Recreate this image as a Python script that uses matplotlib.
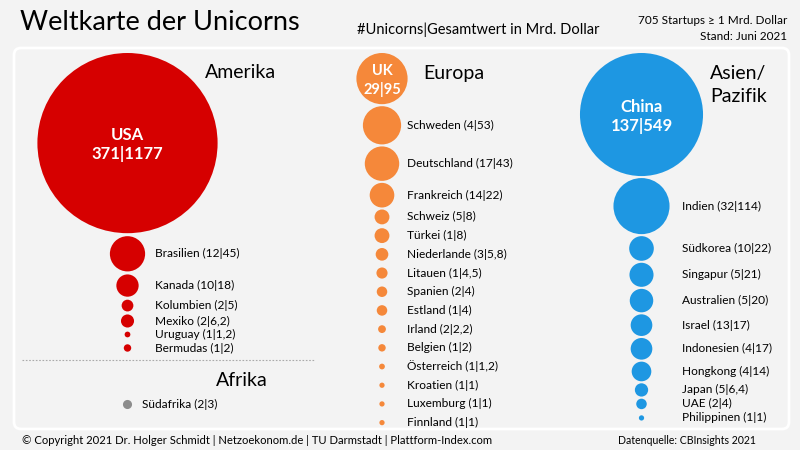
import numpy as np
import matplotlib
matplotlib.use("Agg")
import matplotlib.pyplot as plt
from matplotlib.patches import FancyBboxPatch

plt.rcParams['font.family'] = ['Lato', 'DejaVu Sans']

# data: (unicorns, total value in bn USD)
amerika_names = ["USA", "Brasilien", "Kanada", "Kolumbien", "Mexiko", "Uruguay", "Bermudas"]
amerika_count = ["371", "12", "10", "2", "2", "1", "1"]
amerika_value = [1177, 45, 18, 5, 6.2, 1.2, 2]

europa_names = ["UK", "Schweden", "Deutschland", "Frankreich", "Schweiz", "Türkei",
                "Niederlande", "Litauen", "Spanien", "Estland", "Irland", "Belgien",
                "Österreich", "Kroatien", "Luxemburg", "Finnland"]
europa_count = ["29", "4", "17", "14", "5", "1", "3", "1", "2", "1", "2", "1", "1", "1", "1", "1"]
europa_value = [95, 53, 43, 22, 8, 8, 5.8, 4.5, 4, 4, 2.2, 2, 1.2, 1, 1, 1]

asien_names = ["China", "Indien", "Südkorea", "Singapur", "Australien", "Israel",
               "Indonesien", "Hongkong", "Japan", "UAE", "Philippinen"]
asien_count = ["137", "32", "10", "5", "5", "13", "4", "4", "5", "2", "1"]
asien_value = [549, 114, 22, 21, 20, 17, 17, 14, 6.4, 4, 1]

afrika_names = ["Südafrika"]
afrika_count = ["2"]
afrika_value = [3]

RED = "#d60000"
ORANGE = "#f5883a"
BLUE = "#1e97e2"
GRAY = "#8c8c8c"
BG = "#f3f3f3"

DPI = 100
SIZE_K = 14.3  # points^2 per bn USD
LABEL_FS = 8.6


def fmt(v):
    return ("%g" % v).replace(".", ",")


def radius_px(v):
    return np.sqrt(SIZE_K * v) / 2 * DPI / 72


def column_y(values, top, gap, min_step):
    r = [radius_px(v) for v in values]
    ys = [top + r[0]]
    for i in range(1, len(values)):
        ys.append(ys[-1] + max(r[i - 1] + r[i] + gap, min_step))
    return ys


fig = plt.figure(figsize=(8, 4.5), dpi=DPI, facecolor=BG)
ax = fig.add_axes([0, 0, 1, 1])
ax.set_xlim(0, 800)
ax.set_ylim(450, 0)
ax.axis('off')

panel = FancyBboxPatch((14, 48), 775, 381, boxstyle="round,pad=0,rounding_size=7",
                       facecolor=BG, edgecolor="white", lw=2)
ax.add_patch(panel)

# header
ax.text(20, 23, "Weltkarte der Unicorns", fontsize=19.5,
        va='center', ha='left', color='black')
ax.text(357, 30, "#Unicorns|Gesamtwert in Mrd. Dollar", fontsize=10.5, va='center', ha='left')
ax.text(787, 20, "705 Startups ≥ 1 Mrd. Dollar", fontsize=8.5, va='center', ha='right')
ax.text(787, 37, "Stand: Juni 2021", fontsize=8.5, va='center', ha='right')

# footer
ax.text(22, 440, "© Copyright 2021 Dr. Holger Schmidt | Netzoekonom.de | TU Darmstadt | Plattform-Index.com",
        fontsize=8.1, va='center', ha='left')
ax.text(756, 440, "Datenquelle: CBInsights 2021", fontsize=7.6, va='center', ha='right')

TOP = 53
columns = [
    (amerika_names, amerika_count, amerika_value, RED, 127.5, 155, 3, 13.5, 12),
    (europa_names, europa_count, europa_value, ORANGE, 382, 407, 2, 18.7, 10.5),
    (asien_names, asien_count, asien_value, BLUE, 641.5, 682, 2, 14, 12),
]

for names, counts, values, col, cx, lx, gap, step, big in columns:
    ys = column_y(values, TOP, gap, step)
    sizes = [SIZE_K * v for v in values]
    ax.scatter([cx] * len(values), ys, s=sizes, color=col, linewidths=0, zorder=3)
    ax.text(cx, ys[0] - 8, names[0], color='white', fontsize=big, fontweight='bold',
            ha='center', va='center', zorder=4)
    ax.text(cx, ys[0] + 11, counts[0] + "|" + fmt(values[0]), color='white', fontsize=big,
            fontweight='bold', ha='center', va='center', zorder=4)
    for n, c, v, y in zip(names[1:], counts[1:], values[1:], ys[1:]):
        ax.text(lx, y, "%s (%s|%s)" % (n, c, fmt(v)), fontsize=LABEL_FS, ha='left', va='center')

# region titles
ax.text(205, 73, "Amerika", fontsize=14, ha='left', va='center')
ax.text(423, 73, "Europa", fontsize=14, ha='left', va='center')
ax.text(710, 73, "Asien/", fontsize=14, ha='left', va='center')
ax.text(710, 97, "Pazifik", fontsize=14, ha='left', va='center')

# Afrika
ax.plot([22, 315], [360, 360], color='#aaaaaa', lw=0.8, ls=(0, (1.5, 1.5)))
ax.text(216, 381, "Afrika", fontsize=14, ha='left', va='center')
ax.scatter([127] * len(afrika_value), [404], s=[SIZE_K * v for v in afrika_value],
           color=GRAY, linewidths=0, zorder=3)
ax.text(142, 404, "%s (%s|%s)" % (afrika_names[0], afrika_count[0], fmt(afrika_value[0])),
        fontsize=LABEL_FS, ha='left', va='center')

fig.savefig("out.png", dpi=DPI, facecolor=BG)
